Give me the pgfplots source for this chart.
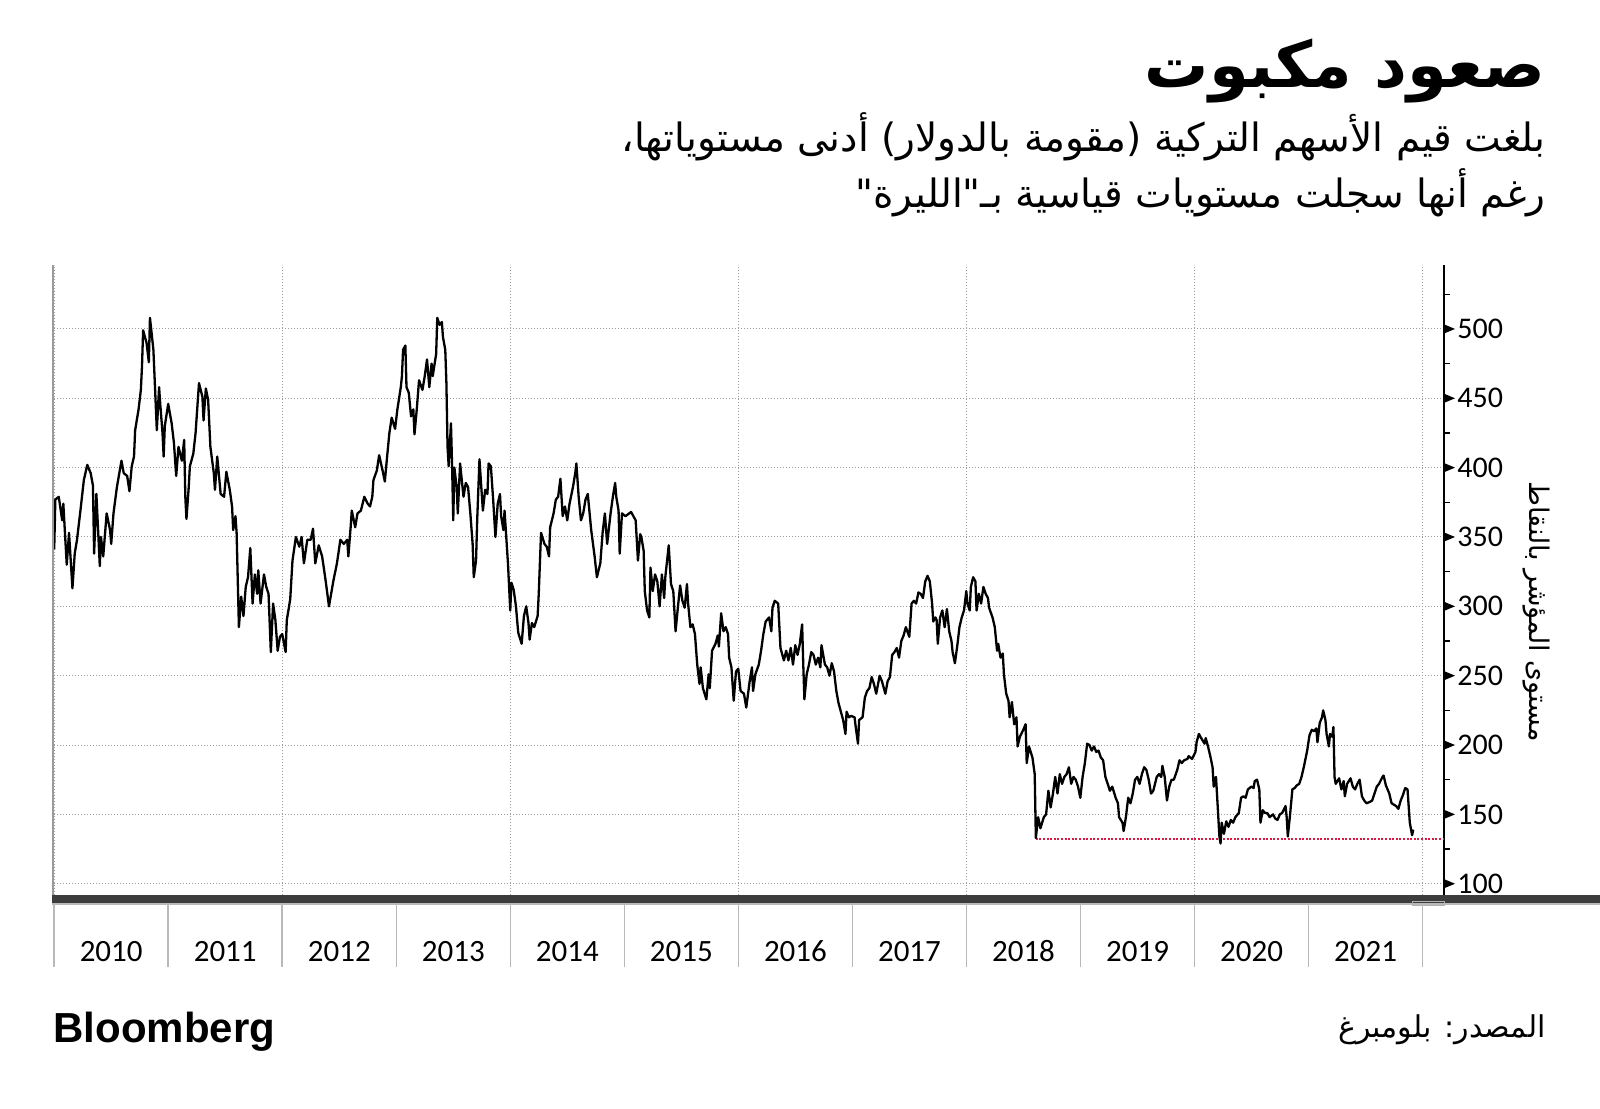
\documentclass[border=0pt]{standalone}
\usepackage{fontspec}
\setmainfont{Carlito}
\newfontfamily\arabicfont[Script=Arabic]{DejaVu Sans}
\newfontfamily\logofont{Liberation Sans}
\usepackage{pgfplots}
\pgfplotsset{compat=1.18}
\TeXXeTstate=1

\definecolor{barcol}{HTML}{3C3C3C}
\definecolor{gridcol}{HTML}{9A9A9A}
\definecolor{lowred}{HTML}{D81B45}

% right-pointing triangle for the major y ticks
\pgfdeclareplotmark{rtri}{%
  \pgfpathmoveto{\pgfpoint{0bp}{2.3bp}}%
  \pgfpathlineto{\pgfpoint{5.5bp}{0bp}}%
  \pgfpathlineto{\pgfpoint{0bp}{-2.3bp}}%
  \pgfpathclose\pgfusepathqfill}

\begin{document}
\begin{tikzpicture}
\path[use as bounding box] (0,0) rectangle (800bp,-554.5bp);
\begin{axis}[
  at={(27.1bp,-449bp)}, anchor=south west,
  scale only axis, width=694.9bp, height=316.5bp,
  xmin=2010, xmax=2022.19, ymin=89.7, ymax=546.1,
  clip=false,
  axis y line*=right, axis x line*=bottom,
  x axis line style={draw=none},
  y axis line style={line width=0.75bp, black},
  xtick={2010,2012,...,2022}, xticklabels={},
  xtick style={draw=none},
  ytick={100,150,...,500},
  minor ytick={125,175,...,525},
  tick align=outside,
  major tick length=0pt, minor tick length=3bp,
  minor y tick style={black, line width=0.6bp},
  xmajorgrids, ymajorgrids,
  grid style={gridcol, line width=0.5bp, dash pattern=on 0.6bp off 0.9bp},
  /pgf/number format/assume math mode=true,
  yticklabel style={font=\fontsize{15bp}{17bp}\selectfont, anchor=west, inner sep=0pt, xshift=6.5bp},
]
\addplot[lowred, line width=1.1bp, dash pattern=on 1bp off 0.8bp] coordinates {(2018.61,132) (2022.19,132)};

\addplot[black, line width=1.15bp, line join=round] coordinates {
(2010.00,341) (2010.01,377) (2010.04,379) (2010.07,362) (2010.08,374) (2010.11,330) (2010.13,353) (2010.16,313)
(2010.18,338) (2010.20,348) (2010.23,369) (2010.26,391) (2010.29,402) (2010.32,396) (2010.34,387) (2010.35,338)
(2010.37,381) (2010.40,329) (2010.41,350) (2010.43,336) (2010.46,367) (2010.49,355) (2010.50,345) (2010.52,367)
(2010.55,386) (2010.59,405) (2010.61,396) (2010.64,394) (2010.66,383) (2010.68,401) (2010.70,408) (2010.71,427)
(2010.74,442) (2010.76,456) (2010.77,473) (2010.78,499) (2010.81,490) (2010.83,476) (2010.84,508) (2010.87,485)
(2010.88,466) (2010.90,427) (2010.92,458) (2010.93,446) (2010.95,425) (2010.96,408) (2010.97,430) (2011.00,446)
(2011.03,432) (2011.05,418) (2011.07,394) (2011.09,415) (2011.12,405) (2011.14,420) (2011.15,379) (2011.16,363)
(2011.18,386) (2011.19,401) (2011.22,410) (2011.24,425) (2011.27,461) (2011.30,451) (2011.31,434) (2011.33,457)
(2011.35,449) (2011.37,415) (2011.40,396) (2011.41,384) (2011.43,408) (2011.46,381) (2011.49,379) (2011.51,397)
(2011.54,384) (2011.56,372) (2011.57,355) (2011.59,365) (2011.60,353) (2011.62,285) (2011.64,307) (2011.66,293)
(2011.68,314) (2011.70,321) (2011.72,342) (2011.74,302) (2011.76,323) (2011.78,309) (2011.79,326) (2011.81,302)
(2011.84,323) (2011.86,314) (2011.88,309) (2011.90,267) (2011.92,302) (2011.94,290) (2011.96,268) (2011.98,278)
(2012.00,280) (2012.03,267) (2012.04,290) (2012.07,305) (2012.09,333) (2012.12,350) (2012.15,343) (2012.17,350)
(2012.19,331) (2012.22,348) (2012.25,348) (2012.27,356) (2012.29,331) (2012.32,344) (2012.35,336) (2012.38,319)
(2012.41,300) (2012.45,319) (2012.48,331) (2012.51,348) (2012.54,345) (2012.57,348) (2012.58,336) (2012.60,357)
(2012.61,369) (2012.64,357) (2012.66,367) (2012.69,369) (2012.72,379) (2012.75,374) (2012.77,372) (2012.79,379)
(2012.80,391) (2012.83,398) (2012.85,409) (2012.88,398) (2012.90,390) (2012.92,408) (2012.94,425) (2012.96,436)
(2012.99,428) (2013.01,442) (2013.04,458) (2013.05,466) (2013.06,485) (2013.08,488) (2013.09,458) (2013.11,454)
(2013.13,437) (2013.15,442) (2013.16,424) (2013.18,442) (2013.20,463) (2013.23,456) (2013.25,466) (2013.27,478)
(2013.29,458) (2013.31,475) (2013.32,466) (2013.35,482) (2013.36,508) (2013.38,503) (2013.40,505) (2013.41,494)
(2013.43,485) (2013.44,461) (2013.45,415) (2013.46,401) (2013.48,432) (2013.49,401) (2013.50,362) (2013.51,400)
(2013.53,386) (2013.54,367) (2013.56,403) (2013.59,379) (2013.61,389) (2013.63,386) (2013.65,367) (2013.67,345)
(2013.68,321) (2013.70,333) (2013.71,362) (2013.73,406) (2013.75,381) (2013.76,369) (2013.78,384) (2013.80,381)
(2013.81,403) (2013.83,401) (2013.85,377) (2013.87,350) (2013.89,374) (2013.91,381) (2013.92,365) (2013.94,355)
(2013.95,369) (2013.98,331) (2014.00,297) (2014.01,317) (2014.03,312) (2014.05,300) (2014.07,281) (2014.10,273)
(2014.12,293) (2014.14,300) (2014.16,288) (2014.17,276) (2014.19,288) (2014.21,285) (2014.24,293) (2014.25,309)
(2014.27,353) (2014.30,345) (2014.32,343) (2014.34,336) (2014.35,357) (2014.38,367) (2014.40,377) (2014.42,379)
(2014.44,392) (2014.46,365) (2014.48,372) (2014.50,362) (2014.52,374) (2014.55,386) (2014.57,396) (2014.58,403)
(2014.60,379) (2014.62,362) (2014.64,367) (2014.66,377) (2014.68,381) (2014.71,355) (2014.74,336) (2014.76,321)
(2014.79,331) (2014.81,353) (2014.83,367) (2014.85,345) (2014.88,367) (2014.90,379) (2014.92,389) (2014.93,379)
(2014.95,369) (2014.96,338) (2014.98,367) (2015.01,365) (2015.06,368) (2015.10,362) (2015.12,333) (2015.14,352)
(2015.15,350) (2015.17,340) (2015.18,311) (2015.20,297) (2015.22,292) (2015.23,328) (2015.25,311) (2015.27,323)
(2015.29,318) (2015.31,300) (2015.33,323) (2015.35,306) (2015.36,321) (2015.39,344) (2015.41,316) (2015.43,311)
(2015.45,282) (2015.47,299) (2015.49,315) (2015.51,304) (2015.53,299) (2015.55,316) (2015.56,302) (2015.58,285)
(2015.60,287) (2015.62,280) (2015.64,258) (2015.66,244) (2015.67,256) (2015.69,241) (2015.72,233) (2015.74,251)
(2015.75,241) (2015.77,268) (2015.80,273) (2015.82,279) (2015.83,271) (2015.85,295) (2015.87,282) (2015.89,285)
(2015.91,280) (2015.92,263) (2015.94,256) (2015.96,232) (2015.98,253) (2016.00,255) (2016.02,239) (2016.05,237)
(2016.07,227) (2016.10,246) (2016.12,256) (2016.13,239) (2016.15,251) (2016.18,258) (2016.20,268) (2016.22,280)
(2016.24,289) (2016.27,292) (2016.29,282) (2016.30,299) (2016.32,304) (2016.35,302) (2016.37,270) (2016.40,261)
(2016.42,268) (2016.44,261) (2016.46,270) (2016.48,258) (2016.50,272) (2016.52,265) (2016.54,273) (2016.56,287)
(2016.57,258) (2016.58,233) (2016.60,251) (2016.62,258) (2016.64,267) (2016.66,265) (2016.68,258) (2016.70,263)
(2016.72,256) (2016.73,272) (2016.76,258) (2016.78,256) (2016.80,250) (2016.82,259) (2016.84,253) (2016.86,239)
(2016.88,230) (2016.90,224) (2016.92,218) (2016.94,208) (2016.95,224) (2016.97,220) (2016.99,221) (2017.02,220)
(2017.03,213) (2017.05,201) (2017.06,218) (2017.09,220) (2017.11,234) (2017.13,239) (2017.15,241) (2017.17,249)
(2017.19,244) (2017.21,237) (2017.24,250) (2017.26,246) (2017.29,237) (2017.31,246) (2017.33,249) (2017.35,265)
(2017.37,267) (2017.39,270) (2017.41,263) (2017.43,275) (2017.45,279) (2017.47,285) (2017.50,278) (2017.52,302)
(2017.54,304) (2017.56,302) (2017.58,310) (2017.60,309) (2017.62,306) (2017.64,318) (2017.66,322) (2017.68,318)
(2017.70,302) (2017.71,289) (2017.73,292) (2017.74,290) (2017.75,273) (2017.77,292) (2017.79,297) (2017.81,285)
(2017.83,298) (2017.85,282) (2017.87,275) (2017.88,267) (2017.90,259) (2017.92,271) (2017.94,285) (2017.96,292)
(2017.98,297) (2018.00,311) (2018.01,302) (2018.03,297) (2018.04,314) (2018.06,321) (2018.08,318) (2018.09,297)
(2018.11,309) (2018.13,302) (2018.15,314) (2018.17,309) (2018.19,306) (2018.20,299) (2018.23,292) (2018.25,285)
(2018.27,268) (2018.28,273) (2018.30,263) (2018.32,266) (2018.33,251) (2018.35,237) (2018.37,232) (2018.38,220)
(2018.40,231) (2018.42,215) (2018.44,220) (2018.45,199) (2018.47,206) (2018.50,211) (2018.52,215) (2018.53,187)
(2018.55,199) (2018.58,191) (2018.60,179) (2018.61,133) (2018.63,148) (2018.64,144) (2018.65,140) (2018.68,148)
(2018.70,150) (2018.72,167) (2018.74,155) (2018.76,165) (2018.78,177) (2018.80,165) (2018.82,179) (2018.84,172)
(2018.86,177) (2018.88,179) (2018.90,184) (2018.92,172) (2018.94,177) (2018.96,175) (2018.98,170) (2019.00,162)
(2019.02,177) (2019.04,187) (2019.06,201) (2019.08,200) (2019.10,196) (2019.12,199) (2019.14,195) (2019.16,196)
(2019.18,191) (2019.20,189) (2019.22,177) (2019.24,172) (2019.26,167) (2019.28,170) (2019.31,162) (2019.33,158)
(2019.34,148) (2019.37,144) (2019.38,138) (2019.40,148) (2019.42,162) (2019.44,158) (2019.46,165) (2019.48,175)
(2019.50,177) (2019.52,172) (2019.54,179) (2019.56,184) (2019.58,182) (2019.60,175) (2019.62,165) (2019.64,167)
(2019.67,177) (2019.69,179) (2019.71,177) (2019.72,185) (2019.74,177) (2019.76,160) (2019.78,170) (2019.80,175)
(2019.82,175) (2019.85,182) (2019.87,189) (2019.89,187) (2019.91,189) (2019.94,190) (2019.95,192) (2019.98,190)
(2020.01,195) (2020.02,202) (2020.04,208) (2020.06,205) (2020.09,201) (2020.10,205) (2020.12,199) (2020.14,192)
(2020.16,184) (2020.17,170) (2020.19,177) (2020.20,163) (2020.22,134) (2020.23,129) (2020.24,144) (2020.26,136)
(2020.28,145) (2020.30,141) (2020.32,146) (2020.34,144) (2020.36,148) (2020.39,151) (2020.41,162) (2020.43,163)
(2020.45,162) (2020.47,168) (2020.50,170) (2020.52,169) (2020.53,174) (2020.55,175) (2020.57,168) (2020.58,144)
(2020.60,153) (2020.62,151) (2020.64,151) (2020.66,148) (2020.69,150) (2020.71,147) (2020.73,146) (2020.75,150)
(2020.77,151) (2020.80,156) (2020.81,148) (2020.82,134) (2020.84,150) (2020.86,168) (2020.88,169) (2020.90,171)
(2020.92,172) (2020.94,177) (2020.96,184) (2020.99,196) (2021.01,207) (2021.03,211) (2021.05,210) (2021.07,212)
(2021.08,202) (2021.10,216) (2021.12,220) (2021.13,225) (2021.15,218) (2021.16,208) (2021.18,199) (2021.19,208)
(2021.21,206) (2021.22,213) (2021.23,177) (2021.24,172) (2021.27,176) (2021.29,168) (2021.31,174) (2021.32,163)
(2021.34,172) (2021.37,176) (2021.39,170) (2021.41,168) (2021.43,172) (2021.45,175) (2021.47,163) (2021.49,160)
(2021.51,158) (2021.54,159) (2021.56,160) (2021.58,165) (2021.60,170) (2021.62,172) (2021.65,177) (2021.66,178)
(2021.68,171) (2021.71,165) (2021.73,158) (2021.75,157) (2021.77,156) (2021.79,154) (2021.81,160) (2021.83,164)
(2021.85,169) (2021.87,168) (2021.88,156) (2021.89,144) (2021.91,135) (2021.92,139)
};

\addplot[only marks, mark=rtri, black] coordinates {
(2022.19,100) (2022.19,150) (2022.19,200) (2022.19,250) (2022.19,300)
(2022.19,350) (2022.19,400) (2022.19,450) (2022.19,500)};
\end{axis}

\begin{scope}[x=0.5bp,y=-0.5bp]
  % left edge of the plot
  \draw[gridcol, line width=0.6bp] (53,265) -- (53,898);
  % thick time bar
  \draw[barcol, line width=4bp] (52,899) -- (1600,899);
  \draw[gray!55, line width=0.6bp] (52,904) -- (1600,904);
  \draw[gray!60, line width=0.5bp] (1413,902) rectangle (1445,906);
  % year separators and labels
  \foreach \i in {0,...,12}
    \draw[gray!55, line width=0.8bp] (54.2+114.04*\i,903) -- (54.2+114.04*\i,967);
  \foreach \i in {0,...,11}{
    \pgfmathtruncatemacro\yr{2010+\i}
    \node[anchor=base, inner sep=0pt, font=\fontsize{15.5bp}{18bp}\selectfont] at (111.2+114.04*\i,962) {\yr};
  }
  % titles
  \node[anchor=base east, inner sep=0pt, font=\arabicfont\bfseries\fontsize{32bp}{36bp}\selectfont]
    at (1546,88) {\beginR صعود مكبوت\endR};
  \node[anchor=base east, inner sep=0pt, font=\arabicfont\fontsize{19.5bp}{22bp}\selectfont]
    at (1546,152) {\beginR بلغت قيم الأسهم التركية (مقومة بالدولار) أدنى مستوياتها،\endR};
  \node[anchor=base east, inner sep=0pt, font=\arabicfont\fontsize{19.5bp}{22bp}\selectfont]
    at (1546,208) {\beginR رغم أنها سجلت مستويات قياسية بـ"الليرة"\endR};
  % y axis label
  \node[rotate=-90, inner sep=0pt, font=\arabicfont\fontsize{13.5bp}{16bp}\selectfont]
    at (1536,612) {\beginR مستوى المؤشر بالنقاط\endR};
  % footer
  \node[anchor=base east, inner sep=0pt, font=\arabicfont\fontsize{15bp}{18bp}\selectfont]
    at (1546,1038) {\beginR المصدر: بلومبرغ\endR};
  \node[anchor=base west, inner sep=0pt, font=\logofont\bfseries\fontsize{21bp}{24bp}\selectfont]
    at (53,1043) {Bloomberg};
\end{scope}
\end{tikzpicture}
\end{document}
